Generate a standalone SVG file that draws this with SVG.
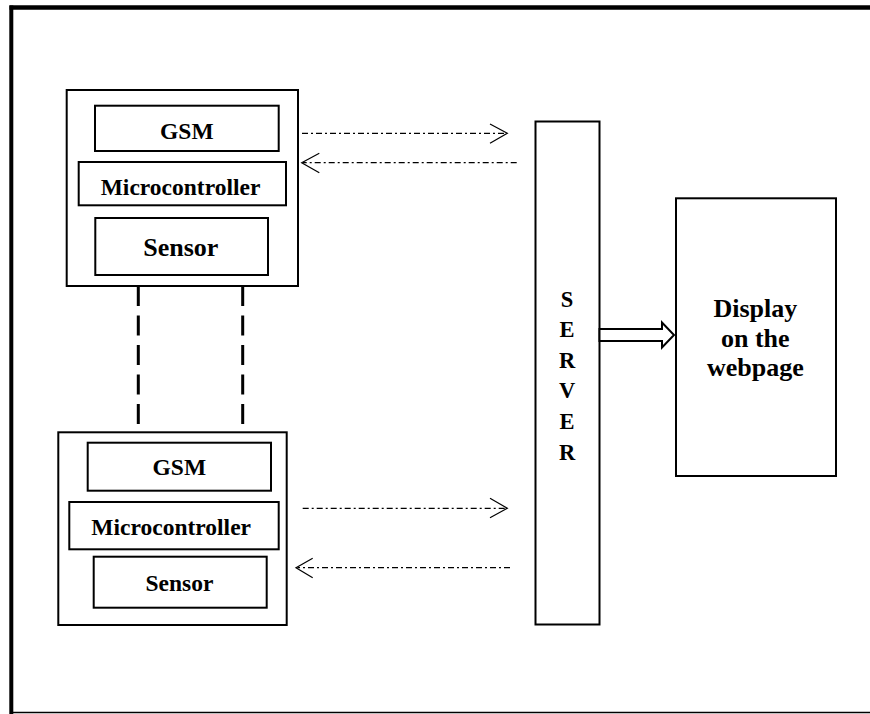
<svg xmlns="http://www.w3.org/2000/svg" width="870" height="714" viewBox="0 0 870 714">
<style>
  .box { fill: #fff; stroke: #000; stroke-width: 2; }
  .t { font-family: "Liberation Serif", "Times New Roman", serif; font-weight: bold; fill: #000; text-anchor: middle; }
  .dd { stroke: #000; stroke-width: 1.2; fill: none; stroke-dasharray: 6 3 2 3; }
  .head { stroke: #000; stroke-width: 1.2; fill: none; }
  .vd { stroke: #000; stroke-width: 3; fill: none; stroke-dasharray: 20 9.5; }
</style>
<rect x="0" y="0" width="870" height="714" fill="#fff"/>
<g id="frame">
  <line x1="9.5" y1="7.5" x2="870" y2="7.5" stroke="#000" stroke-width="4.5"/>
  <line x1="11.3" y1="5.5" x2="11.3" y2="714" stroke="#000" stroke-width="4"/>
  <line x1="11" y1="712.5" x2="870" y2="712.5" stroke="#000" stroke-width="1.5"/>
</g>
<g id="node1">
  <rect class="box" x="66.7" y="90" width="231.3" height="196"/>
  <g id="gsm1">
    <rect class="box" x="95" y="105.7" width="183.7" height="45.3"/>
    <text class="t" x="186.8" y="138.5" font-size="23.5">GSM</text>
  </g>
  <g id="mc1">
    <rect class="box" x="78.7" y="162" width="207.3" height="43.3"/>
    <text class="t" x="180.5" y="194.5" font-size="23.5">Microcontroller</text>
  </g>
  <g id="sensor1">
    <rect class="box" x="95.3" y="218" width="172.7" height="57"/>
    <text class="t" x="180.8" y="256" font-size="26">Sensor</text>
  </g>
</g>
<g id="node2">
  <rect class="box" x="58.3" y="432.3" width="228.4" height="192.7"/>
  <g id="gsm2">
    <rect class="box" x="87.7" y="442.7" width="183.3" height="48"/>
    <text class="t" x="179.3" y="475" font-size="23.5">GSM</text>
  </g>
  <g id="mc2">
    <rect class="box" x="69.3" y="502" width="209.4" height="47.3"/>
    <text class="t" x="171.2" y="535" font-size="23.5">Microcontroller</text>
  </g>
  <g id="sensor2">
    <rect class="box" x="93.7" y="556.7" width="173" height="51"/>
    <text class="t" x="179.5" y="591" font-size="23.5">Sensor</text>
  </g>
</g>
<g id="server">
  <rect class="box" x="535.5" y="121.5" width="64" height="503"/>
  <text class="t" x="567" y="306.5" font-size="22.5">S</text>
  <text class="t" x="567" y="337" font-size="22.5">E</text>
  <text class="t" x="567" y="367.5" font-size="22.5">R</text>
  <text class="t" x="567" y="398" font-size="22.5">V</text>
  <text class="t" x="567" y="429" font-size="22.5">E</text>
  <text class="t" x="567" y="460" font-size="22.5">R</text>
</g>
<g id="display">
  <rect class="box" x="676" y="198.3" width="160" height="277.7"/>
  <text class="t" x="755.3" y="316.5" font-size="26">Display</text>
  <text class="t" x="755.3" y="346.5" font-size="26">on the</text>
  <text class="t" x="755.3" y="376" font-size="26">webpage</text>
</g>
<g id="connectors">
  <line class="vd" x1="138.3" y1="286" x2="138.3" y2="425"/>
  <line class="vd" x1="242.7" y1="286" x2="242.7" y2="425"/>
  <line class="dd" x1="302" y1="133.3" x2="506" y2="133.3"/>
  <polyline class="head" points="490,124 507.3,133.3 490,143.3"/>
  <line class="dd" x1="516.7" y1="162.7" x2="303" y2="162.7"/>
  <polyline class="head" points="319.3,153.3 301.7,162.7 319.3,172.7"/>
  <line class="dd" x1="302.7" y1="508.3" x2="506" y2="508.3"/>
  <polyline class="head" points="490,498.3 507.3,508.3 490,517.7"/>
  <line class="dd" x1="510" y1="567.7" x2="297.5" y2="567.7"/>
  <polyline class="head" points="312.7,558.3 296,567.7 312.7,577.7"/>
  <polygon points="599.5,329 662,329 662,322.5 674,335 662,347.5 662,341 599.5,341" fill="#fff" stroke="#000" stroke-width="2"/>
</g>
</svg>
